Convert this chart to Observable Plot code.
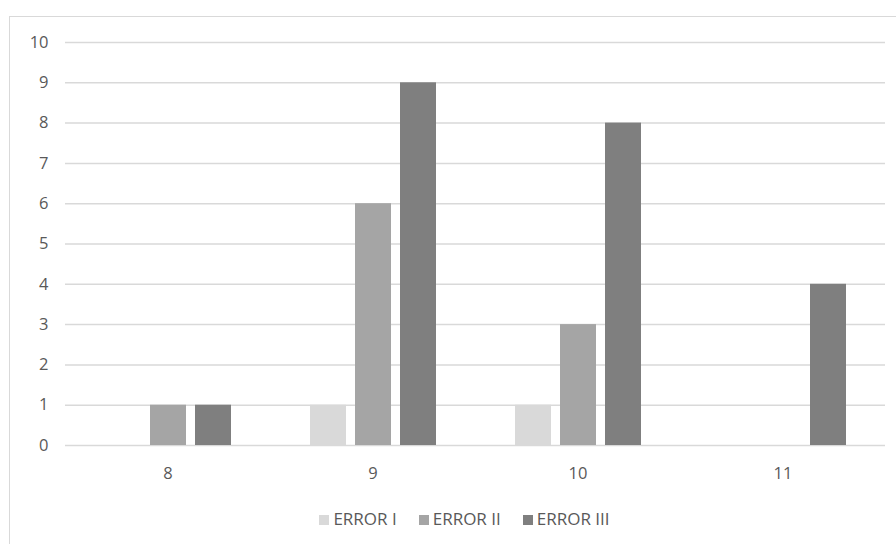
<!DOCTYPE html>
<html>
<head>
<meta charset="utf-8">
<script src="https://cdn.jsdelivr.net/npm/d3@7"></script>
<script src="https://cdn.jsdelivr.net/npm/@observablehq/plot@0.6"></script>
<style>
  html, body { margin: 0; padding: 0; background: #fff; overflow: hidden; }
  #wrap { position: relative; width: 896px; height: 544px; font-family: "Open Sans", sans-serif; }
  #frame { position: absolute; left: 9px; top: 16px; width: 900px; height: 540px; border: 1px solid #d9d9d9; box-sizing: border-box; }
  #chart { position: absolute; left: 0; top: 0; }
  #legend { position: absolute; left: 0; width: 929px; top: 507px; text-align: center; font-size: 17px; color: #595959; white-space: nowrap; }
  #legend span.item { display: inline-block; margin: 0 11px; }
  #legend span.sw { display: inline-block; width: 10px; height: 10px; margin-right: 4px; vertical-align: 0px; }
</style>
</head>
<body>
<div id="wrap">
  <div id="frame"></div>
  <div id="chart"></div>
  <div id="legend"></div>
</div>
<script>
const categories = [8, 9, 10, 11];
const series = ["ERROR I", "ERROR II", "ERROR III"];
const errorI = [0, 1, 1, 0];
const errorII = [1, 6, 3, 0];
const errorIII = [1, 9, 8, 4];
const yTicks = [0, 1, 2, 3, 4, 5, 6, 7, 8, 9, 10];
const colors = ["#d9d9d9", "#a5a5a5", "#7f7f7f"];

const valuesBySeries = [errorI, errorII, errorIII];
const data = [];
categories.forEach((c, i) => {
  series.forEach((s, j) => {
    data.push({category: c, series: s, value: valuesBySeries[j][i]});
  });
});

const chart = Plot.plot({
  width: 896,
  height: 490,
  marginLeft: 64,
  marginRight: 10,
  marginTop: 42,
  marginBottom: 45,
  style: {fontFamily: "'Open Sans', sans-serif", fontSize: "16.5px", color: "#595959", background: "transparent"},
  fx: {domain: categories, padding: 0, label: null, axis: "bottom", tickSize: 0, tickPadding: 22},
  x: {domain: series, axis: null, paddingInner: 0.2, paddingOuter: 0.866},
  y: {domain: [0, 10], ticks: yTicks, label: null, tickSize: 0, tickPadding: 17},
  color: {domain: series, range: colors},
  marks: [
    Plot.ruleY(yTicks, {stroke: "#d9d9d9", strokeWidth: 1.5}),
    Plot.barY(data, {fx: "category", x: "series", y: "value", fill: "series"})
  ]
});
document.getElementById("chart").appendChild(chart);

const legend = document.getElementById("legend");
series.forEach((s, j) => {
  const item = document.createElement("span");
  item.className = "item";
  const sw = document.createElement("span");
  sw.className = "sw";
  sw.style.background = colors[j];
  item.appendChild(sw);
  item.appendChild(document.createTextNode(s));
  legend.appendChild(item);
});
</script>
</body>
</html>
